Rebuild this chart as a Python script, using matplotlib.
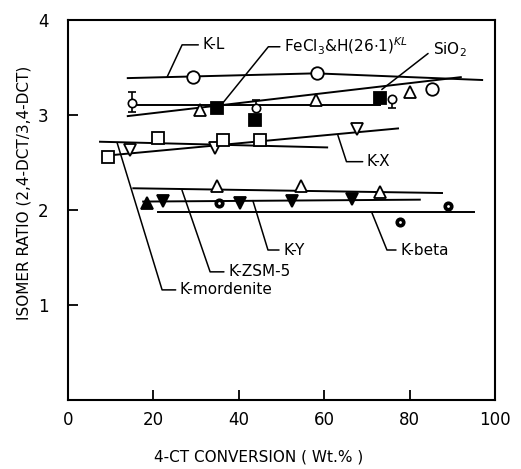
import matplotlib
matplotlib.use("Agg")
import matplotlib.pyplot as plt

# --- data ---
# K-L (open circles)
kl_x = [29.3, 58.3, 85.2]
kl_y = [3.40, 3.44, 3.27]
# FeCl3 & H(26.1) (filled squares)
fe_x = [35.0, 43.8, 73.0]
fe_y = [3.08, 2.95, 3.18]
# SiO2 (open triangles)
si_x = [31.0, 58.0, 80.0]
si_y = [3.05, 3.16, 3.24]
# small circles with error bars
ec_x = [15.0, 44.0, 76.0]
ec_y = [3.13, 3.08, 3.17]
ec_lo = [0.10, 0.0, 0.10]
ec_hi = [0.11, 0.08, 0.0]
# K-X (open down triangles)
kx_x = [14.5, 34.4, 67.7]
kx_y = [2.63, 2.65, 2.85]
# K-mordenite (open squares)
km_x = [9.4, 21.0, 36.3, 45.0]
km_y = [2.56, 2.76, 2.74, 2.74]
# K-ZSM-5 (open up triangles)
kz_x = [35.0, 54.5, 73.0]
kz_y = [2.25, 2.25, 2.19]
# K-Y (filled down triangles, one filled up triangle)
ky_x = [22.2, 40.3, 52.5, 66.5]
ky_y = [2.10, 2.08, 2.10, 2.12]
ky_up_x = [18.5]
ky_up_y = [2.08]
# K-beta (dotted filled circles)
kb_x = [35.4, 77.8, 89.0]
kb_y = [2.08, 1.87, 2.04]

# trend lines as drawn in the figure (end points)
kl_line = ([14.0, 58.0, 97.0], [3.39, 3.44, 3.37])
si_line = ([14.0, 92.0], [2.99, 3.40])
fe_line = ([14.5, 73.0], [3.11, 3.11])
kx_line = ([10.5, 77.3], [2.58, 2.86])
km_line = ([7.5, 60.7], [2.72, 2.66])
kz_line = ([15.3, 87.6], [2.23, 2.18])
ky_line = ([17.6, 82.4], [2.09, 2.11])
kb_line = ([21.0, 95.0], [1.98, 1.98])

fig = plt.figure(figsize=(5.21, 4.69), dpi=100)
ax = fig.add_axes([0.1305, 0.147, 0.8195, 0.81])

lw = 1.4
for xs, ys in [kl_line, si_line, fe_line, kx_line, km_line, kz_line, ky_line, kb_line]:
    ax.plot(xs, ys, color='black', lw=lw, zorder=2)

mk = dict(color='black', linestyle='none', zorder=3, markeredgewidth=1.3)
ax.plot(kl_x, kl_y, marker='o', markersize=9, markerfacecolor='white', **mk)
ax.plot(fe_x, fe_y, marker='s', markersize=8, markerfacecolor='black', **mk)
ax.plot(si_x, si_y, marker='^', markersize=9, markerfacecolor='white', **mk)
ax.errorbar(ec_x, ec_y, yerr=[ec_lo, ec_hi], fmt='o', markersize=6,
            markerfacecolor='white', color='black', capsize=3, elinewidth=1.2,
            markeredgewidth=1.2, zorder=3)
ax.plot(kx_x, kx_y, marker='v', markersize=9, markerfacecolor='white', **mk)
ax.plot(km_x, km_y, marker='s', markersize=8, markerfacecolor='white', **mk)
ax.plot(kz_x, kz_y, marker='^', markersize=9, markerfacecolor='white', **mk)
ax.plot(ky_x, ky_y, marker='v', markersize=9, markerfacecolor='black', **mk)
ax.plot(ky_up_x, ky_up_y, marker='^', markersize=9, markerfacecolor='black', **mk)
ax.plot(kb_x, kb_y, marker='o', markersize=6, markerfacecolor='black', **mk)
ax.plot(kb_x, kb_y, marker='.', markersize=2, color='white', linestyle='none', zorder=4)

# leader labels: text position, point, and leader angle
def leader(text, xytext, xy, angle, **kw):
    ax.annotate(text, xy=xy, xytext=xytext, textcoords='data',
                ha='left', va='center', fontsize=11, **kw,
                arrowprops=dict(arrowstyle='-', color='black', lw=1.1,
                                relpos=(0, 0.5), patchA=None, shrinkA=3, shrinkB=0,
                                connectionstyle=f'angle,angleA=0,angleB={angle},rad=0'))

leader('K-L', (31.5, 3.74), (23.2, 3.40), 65)
leader(r'FeCl$_3$&H(26$\cdot$1)$^{KL}$', (50.6, 3.72), (36.3, 3.13), 51)
ax.annotate(r'SiO$_2$', xy=(73.5, 3.27), xytext=(85.5, 3.69), ha='left', va='center',
            fontsize=11, arrowprops=dict(arrowstyle='-', color='black', lw=1.1,
                                         relpos=(0, 0.5), shrinkA=2, shrinkB=0))
leader('K-X', (70.0, 2.51), (63.2, 2.79), 108)
leader('K-mordenite', (26.2, 1.16), (11.5, 2.71), 107)
leader('K-ZSM-5', (37.5, 1.35), (26.7, 2.21), 109)
leader('K-Y', (50.4, 1.58), (43.3, 2.10), 107)
leader('K-beta', (77.8, 1.58), (71.2, 1.97), 112)

ax.set_xlim(0, 100)
ax.set_ylim(0, 4)
ax.set_xticks([0, 20, 40, 60, 80, 100])
ax.set_yticks([1, 2, 3, 4])
ax.tick_params(direction='in', length=7, width=1.3, labelsize=12)
ax.tick_params(axis='x', pad=8)
ax.tick_params(axis='y', pad=14)
for s in ax.spines.values():
    s.set_linewidth(1.5)

ax.set_xlabel('4-CT CONVERSION ( Wt.% )', fontsize=11)
ax.xaxis.set_label_coords((259 - 68) / 427, -0.13)
ax.set_ylabel('ISOMER RATIO (2,4-DCT/3,4-DCT)', fontsize=11)
ax.yaxis.set_label_coords(-0.085, 0.545)

fig.savefig('out.png', dpi=100)
